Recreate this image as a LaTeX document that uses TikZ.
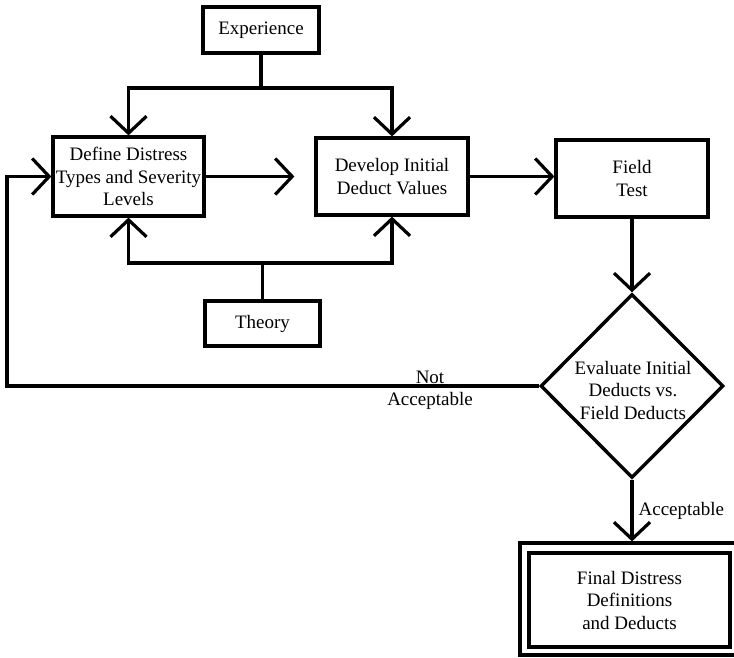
\documentclass[tikz,border=0pt]{standalone}
\usepackage{fontspec}
\setmainfont{Liberation Serif}
\usetikzlibrary{arrows.meta,shapes.geometric}

\begin{document}
\begin{tikzpicture}[
    x=1pt, y=-1pt,
    line width=3.2pt,
    every node/.style={font=\fontsize{19}{22.5}\selectfont, align=center, inner sep=0pt},
    box/.style={draw, rectangle, line width=3.2pt},
    decision/.style={draw, diamond, line width=3.4pt},
    arr/.style={-{Straight Barb[length=17pt,width=36pt]}},
    lbl/.style={font=\fontsize{19}{22.5}\selectfont}
  ]
  \useasboundingbox (0,0) rectangle (734,658);
  \fill[white] (0,0) rectangle (734,658);

  % process boxes
  \node[box, minimum width=116pt, minimum height=46pt] (exp) at (261,30) {Experience};
  \node[box, minimum width=151pt, minimum height=79pt] (def) at (128.5,176.5)
    {Define Distress\\Types and Severity\\Levels};
  \node[box, minimum width=152pt, minimum height=77pt] (dev) at (392,176.5)
    {Develop Initial\\Deduct Values};
  \node[box, minimum width=152pt, minimum height=77pt] (field) at (632,178.5)
    {Field\\Test};
  \node[box, minimum width=115pt, minimum height=45pt] (theory) at (262.5,323.5) {Theory};

  % decision
  \node[decision, minimum width=183pt, minimum height=184pt] (eval) at (632,386) {};
  \node (evaltxt) at (633,390) {Evaluate Initial\\Deducts vs.\\Field Deducts};

  % final result, double frame (right side runs off the page)
  \node[box, minimum width=222pt, minimum height=112pt] (final) at (631,599) {};
  \node[box, minimum width=201pt, minimum height=94pt] (finalin) at (629.5,600)
    {Final Distress\\Definitions\\and Deducts};

  % inputs from experience
  \coordinate (jt) at (262,88);
  \draw (exp.south) -- (exp.south |- jt);
  \draw[arr] (exp.south |- jt) -| (def.north);
  \draw[arr] (exp.south |- jt) -| (dev.north);

  % inputs from theory
  \coordinate (jb) at (265,263);
  \draw (theory.north) -- (theory.north |- jb);
  \draw[arr] (theory.north |- jb) -| (def.south);
  \draw[arr] (theory.north |- jb) -| (dev.south);

  % main flow
  \draw[arr, shorten >=20pt] (def.east) -- (def.east -| dev.west);
  \draw[arr] (dev.east) -- (dev.east -| field.west);
  \draw[arr] (field.south) -- (eval.north);
  \draw[arr] (eval.south) -- (eval.south |- final.north);

  % feedback loop
  \coordinate (lft) at (7,0);
  \draw[arr] (eval.west) -- (eval.west -| lft) |- (def.west);

  % branch labels
  \node[lbl] (notlbl) at (430,377) {Not};
  \node[lbl] (acclbl) at (430,401) {Acceptable};
  \node[lbl, anchor=west] (acclbl2) at (637,511) {Acceptable};
\end{tikzpicture}
\end{document}
